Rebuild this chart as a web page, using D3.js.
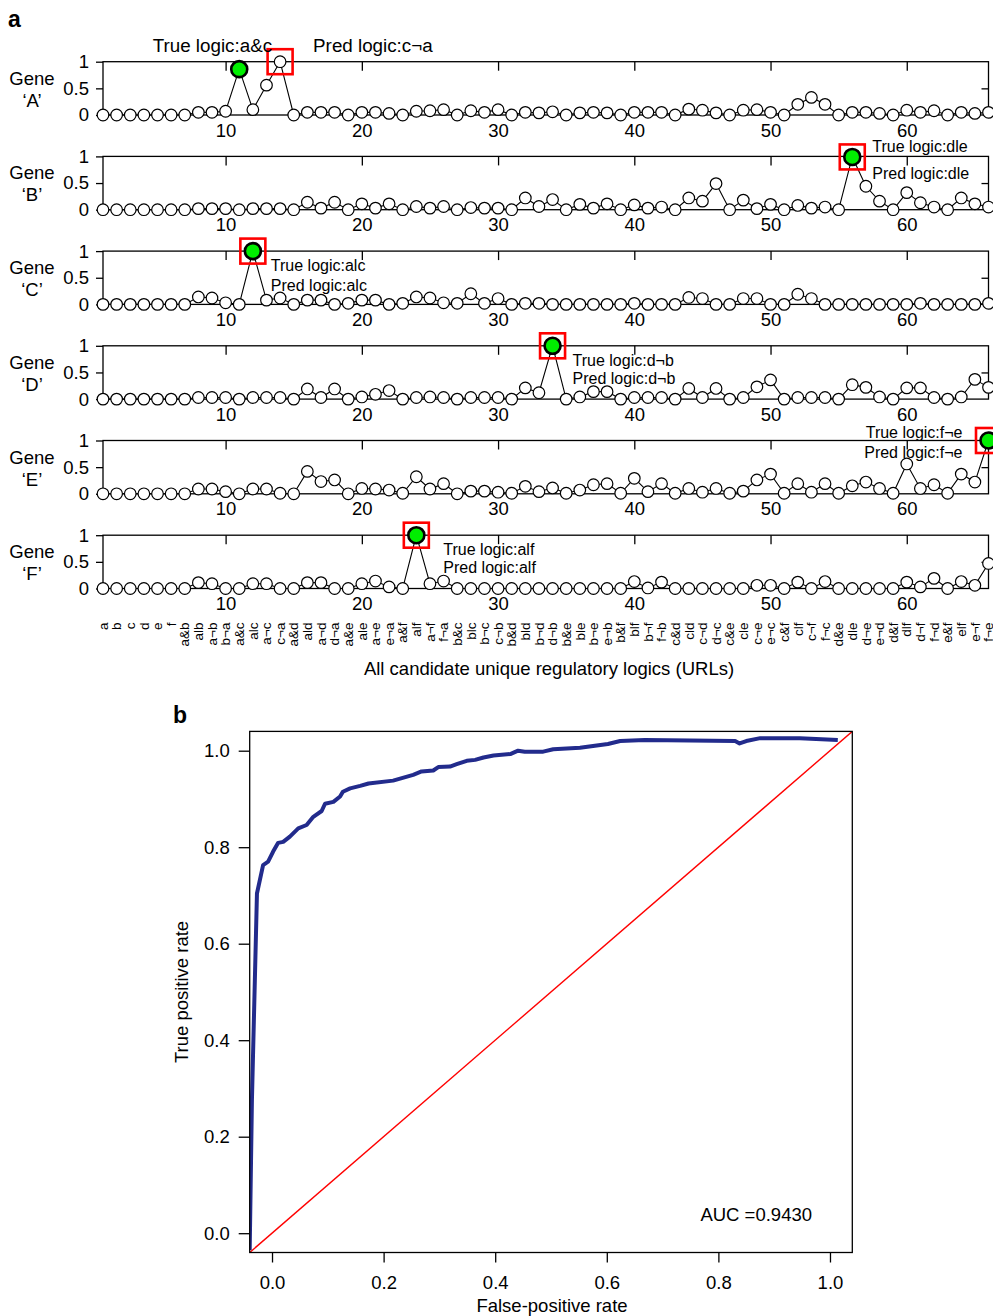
<!DOCTYPE html>
<html>
<head>
<meta charset="utf-8">
<script src="https://cdn.jsdelivr.net/npm/d3@7"></script>
<style>
  html, body { margin: 0; padding: 0; background: #fff; }
  svg { display: block; font-family: "Liberation Sans", Arial, Helvetica, sans-serif; }
</style>
</head>
<body>
<svg id="chart" width="993" height="1316"></svg>
<script>
// ---------------- DATA ----------------
const categories = ["a","b","c","d","e","f",
  "a&b","alb","a¬b","b¬a","a&c","alc","a¬c","c¬a","a&d","ald","a¬d","d¬a",
  "a&e","ale","a¬e","e¬a","a&f","alf","a¬f","f¬a","b&c","blc","b¬c","c¬b",
  "b&d","bld","b¬d","d¬b","b&e","ble","b¬e","e¬b","b&f","blf","b¬f","f¬b",
  "c&d","cld","c¬d","d¬c","c&e","cle","c¬e","e¬c","c&f","clf","c¬f","f¬c",
  "d&e","dle","d¬e","e¬d","d&f","dlf","d¬f","f¬d","e&f","elf","e¬f","f¬e"];

const geneNames = ["A","B","C","D","E","F"];

const probA = [0,0,0,0,0,0,0,0.05,0.05,0.07,0.86,0.10,0.56,1.00,0,0.05,0.05,0.05,0,0.05,
  0.05,0.03,0,0.07,0.08,0.10,0,0.08,0.05,0.10,0,0.05,0.04,0.06,0,0.04,0.05,0.04,0,0.05,
  0.05,0.05,0,0.11,0.09,0.04,0,0.09,0.10,0.05,0,0.20,0.33,0.20,0,0.05,0.05,0.03,0,0.09,
  0.05,0.08,0,0.05,0.03,0.05];
const probB = [0,0,0,0,0,0,0,0.02,0.02,0.02,0,0.02,0.02,0.02,0,0.14,0.03,0.14,0,0.11,
  0.03,0.11,0,0.06,0.03,0.06,0,0.04,0.03,0.03,0,0.22,0.06,0.19,0,0.10,0.03,0.11,0,0.09,
  0.03,0.05,0,0.22,0.16,0.49,0,0.18,0.02,0.10,0,0.08,0.03,0.05,0,0.99,0.44,0.16,0,0.32,
  0.13,0.05,0,0.22,0.11,0.05];
const probC = [0,0,0,0,0,0,0,0.14,0.12,0.03,0,1.00,0.08,0.12,0,0.08,0.08,0,0.02,0.08,
  0.08,0,0.02,0.14,0.12,0.03,0.02,0.20,0.02,0.11,0,0.02,0.02,0,0,0,0,0,0,0.02,
  0,0,0,0.13,0.11,0,0,0.11,0.11,0,0,0.19,0.11,0,0,0,0,0,0,0,
  0.02,0,0,0,0,0.02];
const probD = [0,0,0,0,0,0,0,0.03,0.03,0.03,0,0.03,0.03,0.03,0,0.19,0.03,0.19,0,0.04,
  0.09,0.16,0,0.03,0.04,0.03,0,0.03,0.03,0.03,0,0.21,0.12,1.00,0,0.04,0.14,0.14,0,0.03,
  0.03,0.03,0,0.20,0.03,0.20,0,0.03,0.23,0.36,0,0.03,0.03,0.03,0,0.27,0.22,0.04,0,0.21,
  0.21,0.03,0,0.04,0.37,0.22];
const probE = [0,0,0,0,0,0,0,0.09,0.09,0.04,0,0.09,0.09,0.01,0,0.42,0.23,0.26,0,0.10,
  0.09,0.07,0.01,0.32,0.09,0.19,0,0.05,0.05,0.03,0.01,0.14,0.04,0.11,0.01,0.07,0.17,0.19,0.01,0.29,
  0.04,0.19,0.01,0.10,0.03,0.10,0.01,0.05,0.26,0.37,0.01,0.19,0.03,0.19,0.01,0.15,0.22,0.10,0.01,0.56,
  0.10,0.17,0.01,0.37,0.22,1.00];
const probF = [0,0,0,0,0,0,0,0.11,0.09,0,0,0.09,0.09,0,0,0.11,0.11,0,0,0.09,
  0.14,0.03,0,1.00,0.09,0.14,0,0,0,0,0,0,0,0,0,0,0,0,0,0.13,
  0.01,0.12,0,0,0,0,0,0,0.06,0.06,0,0.12,0,0.13,0,0,0,0,0,0.12,
  0.03,0.19,0,0.13,0.06,0.47];

const trueIdx = [11, 56, 12, 34, 66, 24];
const predIdx = [14, 56, 12, 34, 66, 24];
const trueLogic = ["a&c", "dle", "alc", "d¬b", "f¬e", "alf"];
const predLogic = ["c¬a", "dle", "alc", "d¬b", "f¬e", "alf"];

const xTicksA = [10, 20, 30, 40, 50, 60];
const yTicksA = [0, 0.5, 1];

const rocFPR = [-0.04,-0.036,-0.027,-0.016,-0.007,0.002,0.011,0.020,0.032,0.047,0.062,0.074,0.089,0.095,
  0.110,0.122,0.127,0.140,0.158,0.173,0.217,0.253,0.268,0.289,0.298,0.319,0.331,0.349,0.364,0.379,
  0.397,0.427,0.441,0.453,0.486,0.504,0.552,0.602,0.624,0.668,0.830,0.838,0.850,0.875,0.946,1.014];
const rocTPR = [-0.035,0.276,0.704,0.763,0.770,0.791,0.809,0.811,0.822,0.839,0.846,0.863,0.875,0.890,
  0.894,0.905,0.915,0.922,0.927,0.932,0.938,0.950,0.957,0.959,0.966,0.967,0.972,0.979,0.981,0.986,
  0.990,0.993,1.000,0.998,0.998,1.003,1.006,1.014,1.020,1.022,1.020,1.015,1.020,1.026,1.026,1.022];
const rocTicks = [0, 0.2, 0.4, 0.6, 0.8, 1.0];
const aucLabel = "AUC =0.9430";

// ---------------- LAYOUT ----------------
const svg = d3.select("#chart");
const probs = [probA, probB, probC, probD, probE, probF];
const panelTop0 = 61.7, panelStep = 94.7, panelH = 53.3;
const x = d3.scaleLinear().domain([1, 66]).range([103, 988.5]);
const FONT = "'Liberation Sans', Arial, Helvetica, sans-serif";
const AX_FS = 18.5;

// annotation layout per panel
const annLayout = [
  { mode: "A" },
  { anchor: "start", dx: 20, dyT: -4, dyP: 23 },
  { anchor: "start", dx: 18, dyT: 20, dyP: 40 },
  { anchor: "start", dx: 20, dyT: 20, dyP: 38 },
  { anchor: "end", dx: -26, dyT: -3, dyP: 17 },
  { anchor: "start", dx: 27, dyT: 20, dyP: 38 }
];

svg.append("text").attr("x", 8).attr("y", 27)
  .attr("font-size", 23).attr("font-weight", "bold").text("a");

probs.forEach((vals, p) => {
  const top = panelTop0 + p * panelStep;
  const y = d3.scaleLinear().domain([0, 1]).range([top + panelH, top]);
  const g = svg.append("g");

  g.append("rect").attr("x", x(1)).attr("y", top).attr("width", x(66) - x(1)).attr("height", panelH)
    .attr("fill", "none").attr("stroke", "#000").attr("stroke-width", 1.3);

  const topAx = g.append("g").attr("transform", `translate(0,${top})`)
    .call(d3.axisTop(x).tickValues(xTicksA).tickSize(-9).tickFormat(""));
  topAx.select(".domain").remove();
  topAx.selectAll("line").attr("stroke-width", 1.3);

  const botAx = g.append("g").attr("transform", `translate(0,${top + panelH})`)
    .call(d3.axisBottom(x).tickValues(xTicksA).tickSize(0).tickPadding(8.5));
  botAx.select(".domain").remove();
  botAx.selectAll("text").attr("font-size", AX_FS).attr("font-family", FONT).attr("fill", "#000");

  const leftAx = g.append("g").attr("transform", `translate(${x(1)},0)`)
    .call(d3.axisLeft(y).tickValues(yTicksA).tickSize(7).tickPadding(7)
      .tickFormat(d => d === 0.5 ? "0.5" : d3.format("d")(d)));
  leftAx.select(".domain").remove();
  leftAx.selectAll("line").attr("stroke-width", 1.3);
  leftAx.selectAll("text").attr("font-size", AX_FS).attr("font-family", FONT).attr("fill", "#000");

  const rightAx = g.append("g").attr("transform", `translate(${x(66)},0)`)
    .call(d3.axisRight(y).tickValues([0.5]).tickSize(-7).tickFormat(""));
  rightAx.select(".domain").remove();
  rightAx.selectAll("line").attr("stroke-width", 1.3);

  g.append("text").attr("x", 32).attr("y", top + 23).attr("text-anchor", "middle")
    .attr("font-size", AX_FS).text("Gene");
  g.append("text").attr("x", 32).attr("y", top + 45).attr("text-anchor", "middle")
    .attr("font-size", AX_FS).text("\u2018" + geneNames[p] + "\u2019");

  const line = d3.line().x((d, i) => x(i + 1)).y(d => y(d));
  g.append("path").datum(vals).attr("d", line).attr("fill", "none")
    .attr("stroke", "#000").attr("stroke-width", 1.1);

  g.selectAll("circle.pt").data(vals).join("circle").attr("class", "pt")
    .attr("cx", (d, i) => x(i + 1)).attr("cy", d => y(d)).attr("r", 5.8)
    .attr("fill", "#fff").attr("stroke", "#000").attr("stroke-width", 1.2);

  const ti = trueIdx[p];
  g.append("circle").attr("cx", x(ti)).attr("cy", y(vals[ti - 1])).attr("r", 8)
    .attr("fill", "#00ee00").attr("stroke", "#000").attr("stroke-width", 2.6);

  const pi = predIdx[p];
  g.append("rect").attr("x", x(pi) - 12.5).attr("y", y(vals[pi - 1]) - 12.5)
    .attr("width", 25).attr("height", 25).attr("fill", "none")
    .attr("stroke", "#ff0000").attr("stroke-width", 2.6);

  const L = annLayout[p];
  if (L.mode === "A") {
    g.append("text").attr("x", x(pi) - 8).attr("y", top - 10).attr("text-anchor", "end")
      .attr("font-size", 18.8).text("True logic:" + trueLogic[p]);
    g.append("text").attr("x", x(pi) + 33).attr("y", top - 10).attr("text-anchor", "start")
      .attr("font-size", 18.8).text("Pred logic:" + predLogic[p]);
  } else {
    g.append("text").attr("x", x(pi) + L.dx).attr("y", top + L.dyT).attr("text-anchor", L.anchor)
      .attr("font-size", 16).text("True logic:" + trueLogic[p]);
    g.append("text").attr("x", x(pi) + L.dx).attr("y", top + L.dyP).attr("text-anchor", L.anchor)
      .attr("font-size", 16).text("Pred logic:" + predLogic[p]);
  }
});

// category labels (rotated)
svg.append("g").selectAll("text").data(categories).join("text")
  .attr("transform", (d, i) => `translate(${x(i + 1)},622.5) rotate(-90)`)
  .attr("text-anchor", "end").attr("dy", "0.35em").attr("font-size", 13.5)
  .text(d => d);

svg.append("text").attr("x", 549).attr("y", 675).attr("text-anchor", "middle")
  .attr("font-size", AX_FS).text("All candidate unique regulatory logics (URLs)");

// ---------------- PANEL b: ROC ----------------
const rx = d3.scaleLinear().domain([-0.04, 1.04]).range([249.7, 852.3]);
const ry = d3.scaleLinear().domain([-0.04, 1.04]).range([1252.5, 731.4]);

svg.append("text").attr("x", 173).attr("y", 723)
  .attr("font-size", 23).attr("font-weight", "bold").text("b");

svg.append("defs").append("clipPath").attr("id", "rocClip").append("rect")
  .attr("x", rx(-0.04)).attr("y", ry(1.04))
  .attr("width", rx(1.04) - rx(-0.04)).attr("height", ry(-0.04) - ry(1.04));

svg.append("line").attr("x1", rx(-0.04)).attr("y1", ry(-0.04)).attr("x2", rx(1.04)).attr("y2", ry(1.04))
  .attr("stroke", "#ff0000").attr("stroke-width", 1.4).attr("clip-path", "url(#rocClip)");

const rocPts = rocFPR.map((f, i) => [f, rocTPR[i]]);
svg.append("path").datum(rocPts)
  .attr("d", d3.line().x(d => rx(d[0])).y(d => ry(d[1])))
  .attr("fill", "none").attr("stroke", "#222b8c").attr("stroke-width", 4)
  .attr("stroke-linejoin", "round").attr("clip-path", "url(#rocClip)");

svg.append("rect").attr("x", rx(-0.04)).attr("y", ry(1.04))
  .attr("width", rx(1.04) - rx(-0.04)).attr("height", ry(-0.04) - ry(1.04))
  .attr("fill", "none").attr("stroke", "#000").attr("stroke-width", 1.3);

const fmt1 = d3.format(".1f");
const rxAx = svg.append("g").attr("transform", `translate(0,${ry(-0.04)})`)
  .call(d3.axisBottom(rx).tickValues(rocTicks).tickSize(10).tickPadding(13).tickFormat(fmt1));
rxAx.select(".domain").remove();
rxAx.selectAll("line").attr("stroke-width", 1.3);
rxAx.selectAll("text").attr("font-size", AX_FS).attr("font-family", FONT).attr("fill", "#000");

const ryAx = svg.append("g").attr("transform", `translate(${rx(-0.04)},0)`)
  .call(d3.axisLeft(ry).tickValues(rocTicks).tickSize(11).tickPadding(9).tickFormat(fmt1));
ryAx.select(".domain").remove();
ryAx.selectAll("line").attr("stroke-width", 1.3);
ryAx.selectAll("text").attr("font-size", AX_FS).attr("font-family", FONT).attr("fill", "#000");

svg.append("text").attr("x", 552).attr("y", 1312).attr("text-anchor", "middle")
  .attr("font-size", AX_FS).text("False-positive rate");
svg.append("text").attr("transform", `translate(188,${(ry(-0.04) + ry(1.04)) / 2}) rotate(-90)`)
  .attr("text-anchor", "middle").attr("font-size", AX_FS).text("True positive rate");

svg.append("text").attr("x", 812).attr("y", 1221).attr("text-anchor", "end")
  .attr("font-size", AX_FS).text(aucLabel);
</script>
</body>
</html>
